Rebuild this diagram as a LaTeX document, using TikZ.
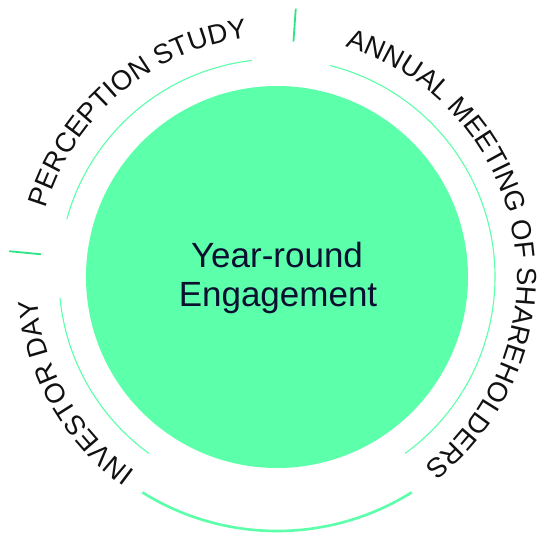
\documentclass[tikz,border=0pt]{standalone}
\usepackage{fontspec}
\setmainfont{Liberation Sans}
\newfontfamily\arcfont{Liberation Sans}
\usetikzlibrary{decorations.text}
\definecolor{mint}{HTML}{5CFFAA}
\definecolor{tickgreen}{HTML}{2EE585}
\definecolor{navy}{HTML}{0B1030}
\definecolor{ink}{HTML}{111111}
\begin{document}
\begin{tikzpicture}[x=1pt,y=1pt,
  ring/.style={draw=mint, line width=1.1pt},
  band/.style={draw=mint, line width=2.6pt},
  tickmark/.style={draw=tickgreen, line width=1.8pt},
  centertext/.style={anchor=base, text=navy, font=\fontsize{35}{35}\selectfont, inner sep=0pt},
  arctext/.style={decorate, decoration={text along path, text align=center, text color=ink,
     text={|\arcfont\fontsize{27.5}{27.5}\selectfont|#1}}}
]
\useasboundingbox (-277pt,-256pt) rectangle (261pt,277pt);
\node (hub) [circle, fill=mint, minimum size=382pt, inner sep=0pt] at (0pt,0pt) {};
\node (l1) [centertext] at (0pt,10pt) {Year-round};
\node (l2) [centertext] at (1pt,-29pt) {Engagement};
\draw[ring] (96.6:218pt) arc[start angle=96.6, end angle=164.6, radius=218pt];
\draw[ring] (-54:218pt) arc[start angle=-54, end angle=75.9, radius=218pt];
\draw[ring] (185.5:218pt) arc[start angle=185.5, end angle=234, radius=218pt];
\draw[band] (238:254pt) arc[start angle=238, end angle=302, radius=254pt];
\coordinate (t1a) at (86:236pt);
\coordinate (t1b) at (86:269pt);
\coordinate (t2a) at (174.5:237pt);
\coordinate (t2b) at (174.5:269pt);
\draw[tickmark] (t1a) -- (t1b);
\draw[tickmark] (t2a) -- (t2b);
\path[arctext={PERCEPTION STUDY}] (205.25:241pt) arc[start angle=205.25, end angle=55.25, radius=241pt];
\path[arctext={ANNUAL MEETING OF SHAREHOLDERS}] (100.75:240pt) arc[start angle=100.75, end angle=-79.25, radius=240pt];
\path[arctext={INVESTOR DAY}] (269.6:241pt) arc[start angle=269.6, end angle=149.6, radius=241pt];
\end{tikzpicture}
\end{document}
